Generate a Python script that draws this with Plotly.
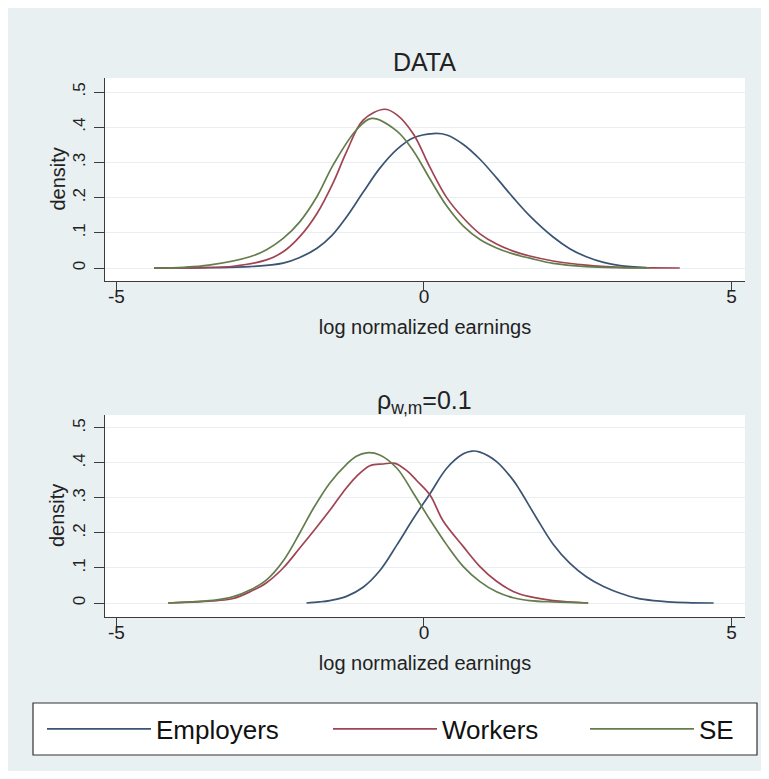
import plotly.graph_objects as go

# The page body has a default 8px margin, so the figure is made slightly smaller
# and all page positions are measured in page pixels minus that offset.
PAGE_OFF = 8
W, H = 761, 763

# ---------------- data ----------------
# Panel 1: DATA
emp_data_x = [-4.39, -3.5, -2.83, -2.29, -2.02, -1.74, -1.5, -1.26, -0.99, -0.72, -0.44, -0.17, 0.15, 0.37,
              0.64, 0.91, 1.18, 1.45, 1.72, 2.1, 2.37, 2.64, 2.92, 3.19, 3.62]
emp_data_y = [0.0, 0.001, 0.004, 0.014, 0.03, 0.056, 0.092, 0.145, 0.215, 0.283, 0.337, 0.37, 0.382, 0.378,
              0.351, 0.309, 0.256, 0.2, 0.148, 0.088, 0.055, 0.032, 0.016, 0.007, 0.001]

wrk_data_x = [-4.39, -3.6, -3.1, -2.56, -2.29, -2.02, -1.74, -1.47, -1.26, -0.99, -0.64, -0.44, -0.17, 0.1,
              0.37, 0.64, 0.91, 1.18, 1.45, 1.72, 2.1, 2.64, 3.19, 3.7, 4.16]
wrk_data_y = [0.0, 0.001, 0.005, 0.023, 0.046, 0.089, 0.155, 0.245, 0.33, 0.42, 0.451, 0.435, 0.38, 0.285,
              0.2, 0.142, 0.097, 0.068, 0.048, 0.034, 0.02, 0.008, 0.002, 0.0005, 0.0]

se_data_x = [-4.39, -3.9, -3.5, -2.83, -2.56, -2.29, -2.02, -1.74, -1.47, -1.1, -0.85, -0.44, -0.17, 0.1,
             0.37, 0.64, 0.91, 1.18, 1.45, 1.72, 2.1, 2.64, 3.2, 3.67]
se_data_y = [0.0, 0.002, 0.008, 0.032, 0.052, 0.084, 0.131, 0.203, 0.295, 0.392, 0.425, 0.389, 0.332, 0.252,
             0.176, 0.119, 0.081, 0.057, 0.04, 0.028, 0.013, 0.004, 0.001, 0.0]

# Panel 2: rho_{w,m} = 0.1
emp_sim_x = [-1.91, -1.7, -1.53, -1.26, -0.99, -0.72, -0.44, -0.17, 0.1, 0.37, 0.64, 0.78, 0.91, 1.18, 1.45,
             1.56, 1.83, 2.1, 2.37, 2.64, 2.92, 3.19, 3.46, 3.73, 4.27, 4.71]
emp_sim_y = [0.0, 0.003, 0.007, 0.019, 0.045, 0.092, 0.166, 0.242, 0.313, 0.385, 0.426, 0.434, 0.431, 0.404,
             0.351, 0.322, 0.243, 0.168, 0.114, 0.075, 0.047, 0.028, 0.014, 0.007, 0.001, 0.0]

wrk_sim_x = [-4.16, -3.37, -3.1, -2.83, -2.56, -2.29, -2.02, -1.74, -1.5, -1.31, -1.1, -0.88, -0.66, -0.47,
             -0.28, -0.12, 0.1, 0.31, 0.64, 0.91, 1.18, 1.45, 1.72, 2.1, 2.67]
wrk_sim_y = [0.0, 0.007, 0.013, 0.032, 0.058, 0.1, 0.157, 0.218, 0.272, 0.318, 0.361, 0.392, 0.397, 0.399,
             0.378, 0.35, 0.308, 0.235, 0.161, 0.104, 0.062, 0.033, 0.018, 0.007, 0.0]

se_sim_x = [-4.16, -3.37, -3.1, -2.83, -2.56, -2.29, -2.02, -1.8, -1.53, -1.26, -1.1, -0.93, -0.72, -0.44,
            -0.17, 0.1, 0.37, 0.64, 0.91, 1.18, 1.45, 1.72, 2.1, 2.67]
se_sim_y = [0.0, 0.009, 0.018, 0.037, 0.066, 0.12, 0.2, 0.27, 0.343, 0.396, 0.419, 0.429, 0.423, 0.385,
            0.313, 0.237, 0.166, 0.104, 0.061, 0.032, 0.015, 0.007, 0.003, 0.0]

series_names = ["Employers", "Workers", "SE"]
x_tick_vals = [-5, 0, 5]
x_tick_text = ["-5", "0", "5"]
y_tick_vals = [0, 0.1, 0.2, 0.3, 0.4, 0.5]
y_tick_text = ["0", ".1", ".2", ".3", ".4", ".5"]
panel_titles = ["DATA", "ρ<sub>w,m</sub>=0.1"]
x_title = "log normalized earnings"
y_title = "density"

# ---------------- styling ----------------
FONT = "Liberation Sans, Arial, Helvetica, sans-serif"
COLORS = ["#3a5472", "#a04454", "#647d4c"]
BG = "#e9f0f2"
AXIS_COL = "#3c3c3c"
GRID_COL = "#e9eff1"
TXT = "#222222"

fig = go.Figure()

legend_ids = ["legend", "legend2", "legend3"]
panels = [
    ([emp_data_x, wrk_data_x, se_data_x], [emp_data_y, wrk_data_y, se_data_y], "x", "y"),
    ([emp_sim_x, wrk_sim_x, se_sim_x], [emp_sim_y, wrk_sim_y, se_sim_y], "x2", "y2"),
]
for p, (xs, ys, xa, ya) in enumerate(panels):
    for i in range(3):
        fig.add_trace(go.Scatter(
            x=xs[i], y=ys[i], mode="lines", name=series_names[i],
            line=dict(color=COLORS[i], width=1.7, shape="spline", smoothing=1.0),
            xaxis=xa, yaxis=ya, showlegend=(p == 0), legendgroup=series_names[i],
            legend=legend_ids[i], hoverinfo="skip",
        ))

def px_x(v):
    """page pixel x -> paper fraction"""
    return min(max((v - PAGE_OFF) / W, 0), 1)

def px_y(v):
    """page pixel y (from top) -> paper fraction"""
    return min(max(1 - (v - PAGE_OFF) / H, 0), 1)

xdom = [px_x(105), px_x(745)]
common_x = dict(
    domain=xdom, range=[-5.187, 5.22], tickmode="array", tickvals=x_tick_vals, ticktext=x_tick_text,
    showgrid=False, zeroline=False, showline=True, linecolor=AXIS_COL, linewidth=1.2,
    ticks="outside", ticklen=8, tickwidth=1.2, tickcolor=AXIS_COL, ticklabelstandoff=-10,
    tickfont=dict(family=FONT, size=19, color=TXT),
    title=dict(text=x_title, font=dict(family=FONT, size=20, color=TXT), standoff=14),
)
common_y = dict(
    tickmode="array", tickvals=y_tick_vals, ticktext=y_tick_text, tickangle=-90,
    showgrid=True, gridcolor=GRID_COL, gridwidth=1.2, zeroline=False,
    showline=True, linecolor=AXIS_COL, linewidth=1.2,
    ticks="outside", ticklen=10, tickwidth=1.2, tickcolor=AXIS_COL, ticklabelstandoff=2,
    tickfont=dict(family=FONT, size=17, color=TXT),
)

legend_line_starts = [48, 334, 591]
legend_common = dict(
    orientation="h", xanchor="left", y=px_y(729), yanchor="middle",
    bgcolor="rgba(0,0,0,0)", borderwidth=0, itemwidth=104,
    font=dict(family=FONT, size=26, color="#111"),
)

panel_tops = [78, 415]
panel_bottoms = [281, 617]
ytitle_annotations = [
    dict(text=y_title, xref="paper", yref="paper", x=px_x(57), y=px_y((t + b) / 2),
         xanchor="center", yanchor="middle", textangle=-90, showarrow=False,
         font=dict(family=FONT, size=20, color=TXT))
    for t, b in zip(panel_tops, panel_bottoms)
]

fig.update_layout(
    width=W, height=H, margin=dict(l=0, r=0, t=0, b=0),
    paper_bgcolor="white", plot_bgcolor="white",
    xaxis=dict(common_x, anchor="y"),
    yaxis=dict(common_y, anchor="x", domain=[px_y(panel_bottoms[0]), px_y(panel_tops[0])],
               range=[-0.0369, 0.5398]),
    xaxis2=dict(common_x, anchor="y2"),
    yaxis2=dict(common_y, anchor="x2", domain=[px_y(panel_bottoms[1]), px_y(panel_tops[1])],
                range=[-0.04, 0.537]),
    showlegend=True,
    legend=dict(legend_common, x=px_x(legend_line_starts[0] - 6)),
    legend2=dict(legend_common, x=px_x(legend_line_starts[1] - 6)),
    legend3=dict(legend_common, x=px_x(legend_line_starts[2] - 6)),
    shapes=[
        dict(type="rect", xref="paper", yref="paper", x0=px_x(6), x1=px_x(763), y0=px_y(773), y1=px_y(6),
             fillcolor=BG, line=dict(width=0), layer="below"),
        dict(type="rect", xref="x domain", yref="y domain", x0=0, x1=1, y0=0, y1=1,
             fillcolor="white", line=dict(width=0), layer="below"),
        dict(type="rect", xref="x2 domain", yref="y2 domain", x0=0, x1=1, y0=0, y1=1,
             fillcolor="white", line=dict(width=0), layer="below"),
        dict(type="rect", xref="paper", yref="paper", x0=px_x(33), x1=px_x(757), y0=px_y(755), y1=px_y(703),
             fillcolor="white", line=dict(width=1.2, color="#333"), layer="below"),
    ],
    annotations=[
        dict(text=panel_titles[0], xref="paper", yref="paper", x=px_x(424), y=px_y(62),
             xanchor="center", yanchor="middle", showarrow=False,
             font=dict(family=FONT, size=25, color=TXT)),
        dict(text=panel_titles[1], xref="paper", yref="paper", x=px_x(424), y=px_y(402),
             xanchor="center", yanchor="middle", showarrow=False,
             font=dict(family=FONT, size=25, color=TXT)),
    ] + ytitle_annotations,
)

fig.write_html("out.html")
